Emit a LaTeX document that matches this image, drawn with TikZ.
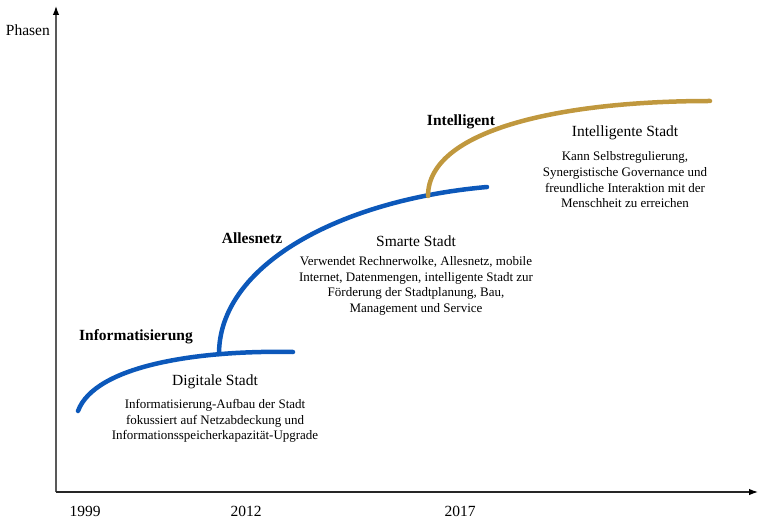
\documentclass[tikz,border=0pt]{standalone}
\usepackage{fontspec}
\setmainfont{Liberation Serif}
\usetikzlibrary{arrows.meta}

\definecolor{phaseBlue}{RGB}{12,88,186}
\definecolor{phaseGold}{RGB}{192,152,62}

\begin{document}
\begin{tikzpicture}[x=1pt, y=-1pt,
    phaseLabel/.style={font=\fontsize{15.5}{18}\selectfont\bfseries, inner sep=0pt},
    stageTitle/.style={font=\fontsize{15.5}{18}\selectfont, inner sep=0pt},
    stageText/.style={font=\fontsize{13}{15.7}\selectfont, align=center, inner sep=0pt},
    yearLabel/.style={font=\fontsize{15.5}{18}\selectfont, inner sep=0pt},
    curve/.style={line width=4.5pt, line cap=round}]

% Canvas (pixel coordinates of the reference)
\useasboundingbox (0,0) rectangle (759,518);

% Axes
\coordinate (origin) at (56,492);
\coordinate (yTop) at (56,6);
\coordinate (xEnd) at (758,492);
\draw[line width=1.2pt, black!65, -{Latex[length=9pt, width=6.5pt, color=black]}] (origin) -- (yTop);
\draw[line width=1.2pt, black!85, -{Latex[length=9pt, width=6.5pt, color=black]}] (origin) -- (xEnd);

% Axis labels
\node[yearLabel, anchor=east] (phasen) at (50,30) {Phasen};
\node[yearLabel] (y1999) at (85,511) {1999};
\node[yearLabel] (y2012) at (246,511) {2012};
\node[yearLabel] (y2017) at (460,511) {2017};

% Phase curves
\coordinate (digStart) at (78,411);
\coordinate (digJoin) at (219,354);
\coordinate (digEnd) at (293,352);
\coordinate (smaEnd) at (487,187);
\coordinate (intJoin) at (428,196);
\coordinate (intEnd) at (710,101);

\draw[curve, phaseBlue] (digStart) .. controls (95,365) and (200,350) .. (digEnd);
\draw[curve, phaseBlue] (digJoin) .. controls (219,265) and (340,200) .. (smaEnd);
\draw[curve, phaseGold] (intJoin) .. controls (428,130) and (560,101) .. (intEnd);

% Phase names
\node[phaseLabel] (informatisierung) at (136,337) {Informatisierung};
\node[phaseLabel] (allesnetz) at (252,238) {Allesnetz};
\node[phaseLabel] (intelligent) at (461,122) {Intelligent};

% Digital city
\node[stageTitle] (digTitle) at (215,382) {Digitale Stadt};
\node[stageText] (digText) at (215,421) {Informatisierung-Aufbau der Stadt\\
    fokussiert auf Netzabdeckung und\\
    Informationsspeicherkapazität-Upgrade};

% Smart city
\node[stageTitle] (smaTitle) at (416,241) {Smarte Stadt};
\node[stageText] (smaText) at (416,286) {Verwendet Rechnerwolke, Allesnetz, mobile\\
    Internet, Datenmengen, intelligente Stadt zur\\
    Förderung der Stadtplanung, Bau,\\
    Management und Service};

% Intelligent city
\node[stageTitle] (intTitle) at (625,133) {Intelligente Stadt};
\node[stageText] (intText) at (625,180) {Kann Selbstregulierung,\\
    Synergistische Governance und\\
    freundliche Interaktion mit der\\
    Menschheit zu erreichen};

\end{tikzpicture}
\end{document}
